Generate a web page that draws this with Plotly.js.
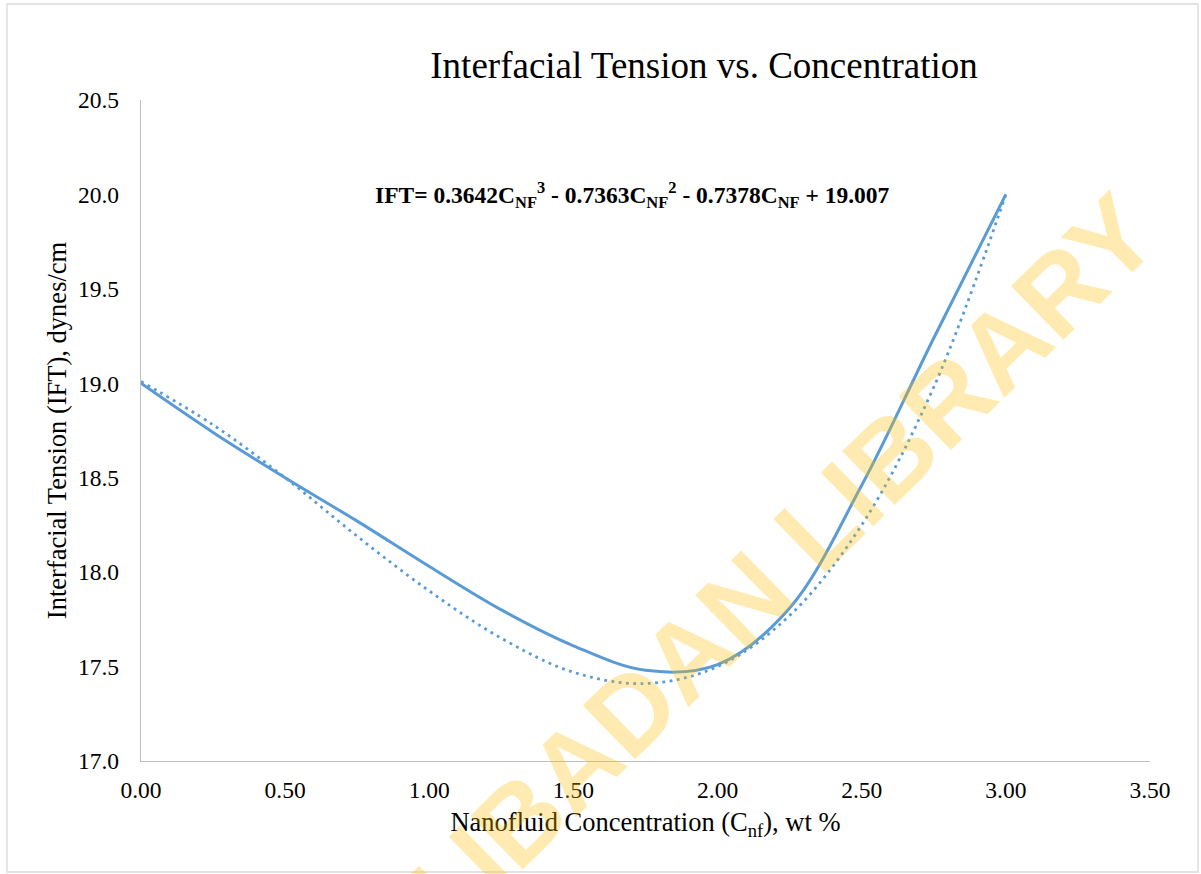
<!DOCTYPE html>
<html><head><meta charset="utf-8">
<script src="https://cdn.plot.ly/plotly-3.0.1.min.js"></script>
<style>
html,body{margin:0;padding:0;background:#fff}
#chart{width:1201px;height:874px}
</style>
</head><body><div id="chart"></div>
<script>
// Measured IFT (solid smoothed line)
const concentration = [0, 0.25, 0.5, 0.75, 1.0, 1.25, 1.5, 1.75, 2.0, 2.25, 2.5, 2.75, 3.0];
const iftMeasured   = [19.00, 18.74, 18.50, 18.27, 18.03, 17.80, 17.61, 17.48, 17.51, 17.81, 18.46, 19.24, 20.00];
// Polynomial trendline (dotted)
const trendConc = [0, 0.25, 0.5, 0.75, 1.0, 1.25, 1.5, 1.75, 2.0, 2.25, 2.5, 2.75, 3.0];
const iftTrend  = [19.01, 18.78, 18.50, 18.19, 17.90, 17.65, 17.47, 17.41, 17.50, 17.77, 18.25, 18.98, 20.00];
// Axis ticks
const xTicks = [0, 0.5, 1.0, 1.5, 2.0, 2.5, 3.0, 3.5];
const xTickLabels = ["0.00", "0.50", "1.00", "1.50", "2.00", "2.50", "3.00", "3.50"];
const yTicks = [17.0, 17.5, 18.0, 18.5, 19.0, 19.5, 20.0, 20.5];
const yTickLabels = ["17.0", "17.5", "18.0", "18.5", "19.0", "19.5", "20.0", "20.5"];
const chartTitle = "Interfacial Tension vs. Concentration";
const xTitle = "Nanofluid Concentration (C<sub>nf</sub>), wt %";
const yTitle = "Interfacial Tension (IFT), dynes/cm";
const equation = "<b>IFT= 0.3642C<sub>NF</sub><sup>3</sup> - 0.7363C<sub>NF</sub><sup>2</sup> - 0.7378C<sub>NF</sub> + 19.007</b>";
const watermark = "<b>UNIVERSITY OF IBADAN LIBRARY</b>";

const serif = "Liberation Serif, Times New Roman, serif";
const blue = "#5B9BD5";
const serifSpan = t => '<span style="font-family:Liberation Serif,Times New Roman,serif">' + t + '</span>';

const traces = [
  {x: concentration, y: iftMeasured, type: "scatter", mode: "lines",
   line: {color: blue, width: 3, shape: "spline"}, hoverinfo: "skip"},
  {x: trendConc, y: iftTrend, type: "scatter", mode: "lines",
   line: {color: blue, width: 2.8, dash: "2.8px,4.5px", shape: "spline"}, hoverinfo: "skip"}
];

const layout = {
  width: 1201, height: 874,
  margin: {l: 141, r: 51, t: 100, b: 113},
  paper_bgcolor: "#fff", plot_bgcolor: "#fff",
  showlegend: false,
  font: {family: serif, color: "#000"},
  title: {text: chartTitle, font: {family: serif, size: 37, color: "#000"},
          xref: "container", x: 0.5862, xanchor: "center",
          yref: "container", y: 0.9256, yanchor: "middle"},
  xaxis: {range: [0, 3.5], tickvals: xTicks, ticktext: xTickLabels.map(serifSpan),
          showline: true, linecolor: "#BFBFBF", linewidth: 1.3, showgrid: false, zeroline: false,
          ticks: "", ticklabelstandoff: 7, tickfont: {family: serif, size: 23.5, color: "#000"},
          title: {text: xTitle, font: {family: serif, size: 26.5, color: "#000"}, standoff: 11}},
  yaxis: {range: [17, 20.5], tickvals: yTicks, ticktext: yTickLabels.map(serifSpan),
          showline: true, linecolor: "#BFBFBF", linewidth: 1.3, showgrid: false, zeroline: false,
          ticks: "", ticklabelstandoff: 16, tickfont: {family: serif, size: 23.5, color: "#000"},
          title: {text: yTitle, font: {family: serif, size: 26.5, color: "#000"}, standoff: 3}},
  shapes: [
    {type: "rect", xref: "paper", yref: "paper", x0: -0.1328, x1: 1.0476, y0: -0.1679, y1: 1.1452,
     line: {color: "#D9D9D9", width: 1.3}, fillcolor: "rgba(0,0,0,0)", layer: "below"}
  ],
  annotations: [
    {xref: "paper", yref: "paper", x: 0.4876, y: 0.856, xanchor: "center", yanchor: "middle",
     text: equation, showarrow: false, font: {family: serif, size: 23.5, color: "#000"}},
    {xref: "paper", yref: "paper", x: 0.350, y: -0.125, xanchor: "center", yanchor: "middle",
     text: watermark, showarrow: false, textangle: -44.4, opacity: 0.3,
     font: {family: "Liberation Sans, Arial, sans-serif", size: 109, color: "#FFC000"}}
  ]
};

Plotly.newPlot("chart", traces, layout, {staticPlot: true, displayModeBar: false});
</script>
</body></html>
